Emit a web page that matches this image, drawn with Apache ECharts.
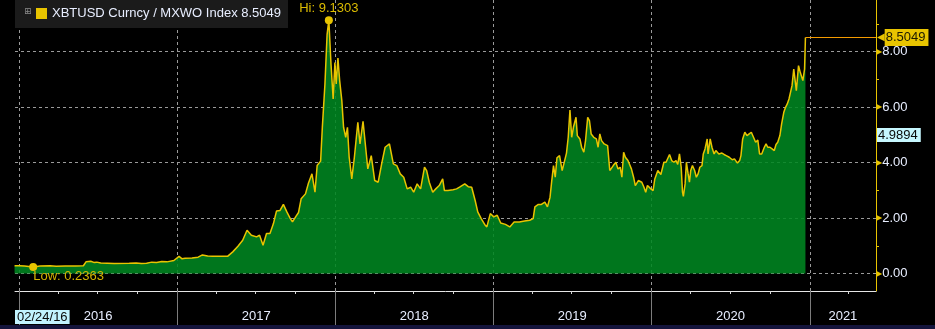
<!DOCTYPE html>
<html>
<head>
<meta charset="utf-8">
<script src="https://cdn.jsdelivr.net/npm/echarts@6/dist/echarts.min.js"></script>
<style>
html,body{margin:0;padding:0;background:#000;}
#chart{width:935px;height:329px;}
</style>
</head>
<body>
<div id="chart"></div>
<script>
// ---- data: [days since 2016-01-01, XBTUSD/MXWO ratio] ----
const seriesName = 'XBTUSD Curncy / MXWO Index 8.5049';
const ratio2016 = [[-10,0.28],[2,0.28],[13,0.27],[33,0.2363],[49,0.27],[72,0.28],[86,0.26],[107,0.27],[131,0.27],[149,0.28],[155,0.42],[166,0.44],[173,0.40],[180,0.41],[189,0.38],[220,0.36],[255,0.37],[271,0.38],[283,0.36],[295,0.37],[307,0.41],[318,0.40],[330,0.43],[342,0.42],[358,0.47]];
const ratio2017 = [[370,0.62],[377,0.53],[384,0.55],[400,0.56],[414,0.59],[424,0.67],[436,0.63],[447,0.62],[459,0.62],[482,0.62],[494,0.78],[506,0.98],[517,1.20],[527,1.56],[537,1.38],[549,1.32],[556,1.38],[564,1.02],[572,1.44],[580,1.44],[588,1.80],[595,2.25],[603,2.27],[611,2.49],[619,2.22],[627,1.98],[632,1.86],[640,2.06],[646,2.20],[652,2.69],[662,2.87],[669,3.26],[677,3.59],[684,2.93],[689,3.89],[697,4.05],[701,5.27],[707,6.83],[712,8.62],[716,9.1303],[721,7.54],[726,6.29],[730,7.60]];
const ratio2018 = [[733,6.83],[737,7.76],[741,6.95],[746,6.23],[750,5.27],[755,4.91],[759,5.27],[763,4.19],[769,3.41],[775,4.19],[783,5.45],[788,4.67],[795,5.48],[801,4.55],[806,3.77],[814,4.25],[822,3.35],[830,3.29],[838,3.95],[846,4.55],[856,4.67],[865,3.95],[873,3.89],[881,3.59],[889,3.47],[897,3.05],[905,3.11],[912,2.93],[920,3.23],[928,3.05],[937,3.83],[942,3.71],[948,3.29],[956,2.93],[963,3.05],[971,3.17],[979,3.41],[983,2.99],[991,2.99],[1003,3.02],[1011,3.05],[1018,3.11],[1030,3.23],[1038,3.13],[1046,3.11],[1054,2.63],[1060,2.22],[1068,1.98],[1076,1.77],[1081,1.68],[1089,2.16]];
const ratio2019 = [[1097,2.04],[1105,2.10],[1113,1.82],[1124,1.77],[1134,1.68],[1144,1.86],[1156,1.86],[1168,1.89],[1180,1.92],[1188,1.98],[1192,2.40],[1200,2.49],[1207,2.49],[1215,2.57],[1221,2.40],[1227,2.75],[1231,3.35],[1235,3.89],[1239,3.47],[1243,4.17],[1249,4.25],[1255,3.71],[1259,3.71],[1265,4.34],[1269,4.91],[1273,5.89],[1277,4.91],[1281,5.27],[1287,5.63],[1290,4.97],[1296,4.85],[1300,4.55],[1305,4.37],[1309,4.79],[1314,5.63],[1318,5.51],[1322,5.03],[1328,4.91],[1334,4.85],[1338,4.55],[1342,5.03],[1346,4.79],[1352,4.67],[1360,4.61],[1365,3.71],[1373,3.89],[1379,4.01],[1384,3.77],[1389,3.83],[1393,3.47],[1397,4.37],[1401,4.19],[1407,4.07],[1415,3.77],[1420,3.47],[1424,3.17],[1431,3.35],[1439,3.29],[1444,3.11],[1448,2.93],[1452,3.17],[1460,3.05]];
const ratio2020 = [[1465,2.99],[1469,3.41],[1476,3.71],[1483,3.57],[1490,4.01],[1495,4.01],[1503,4.29],[1508,4.07],[1513,4.01],[1518,4.07],[1522,3.93],[1526,4.31],[1530,3.83],[1533,2.93],[1535,2.78],[1539,3.23],[1542,4.01],[1546,3.59],[1549,3.29],[1552,3.71],[1556,3.89],[1561,3.71],[1565,3.47],[1569,3.59],[1573,3.83],[1578,3.89],[1581,4.31],[1585,4.49],[1590,4.85],[1592,4.31],[1597,4.85],[1601,4.55],[1606,4.31],[1610,4.43],[1617,4.31],[1624,4.34],[1629,4.29],[1634,4.25],[1641,4.19],[1648,4.10],[1653,4.13],[1660,3.98],[1665,4.07],[1668,4.25],[1672,4.85],[1677,5.09],[1682,4.97],[1687,5.03],[1692,5.09],[1697,4.91],[1702,4.73],[1707,4.81],[1711,4.31],[1716,4.31],[1722,4.55],[1726,4.67],[1730,4.55],[1735,4.55],[1740,4.49],[1745,4.43],[1749,4.65],[1753,4.73],[1758,4.97],[1762,5.39],[1767,5.81],[1771,5.99],[1775,6.11],[1779,6.29],[1783,6.35],[1786,6.77],[1790,7.37],[1793,7.31],[1796,6.59],[1801,7.49],[1805,7.25],[1808,7.25],[1811,6.95],[1815,7.37],[1817,8.5049]];

const hiPoint = [716, 9.1303];
const loPoint = [33, 0.2363];
const lastValue = 8.5049;
const refValue = 4.9894;
const yTickValues = [0, 2, 4, 6, 8];
const yMinorValues = [1, 3, 5, 7, 9];
const yearLabels = [2016, 2017, 2018, 2019, 2020, 2021];
const startDateLabel = '02/24/16';

// ---- build ----
const DAY = 86400000;
const BASE = Date.UTC(2016, 0, 1);
const toTime = d => BASE + d * DAY;
const seriesData = [].concat(ratio2016, ratio2017, ratio2018, ratio2019, ratio2020)
  .map(p => [toTime(p[0]), p[1]]);
const lastTime = seriesData[seriesData.length - 1][0];

const xMin = Date.UTC(2015, 11, 23);
const xMax = Date.UTC(2021, 5, 3);
const yMin = -0.63, yMax = 9.856;

const yearStarts = yearLabels.map(y => Date.UTC(y, 0, 1));
const quarterTicks = [];
yearLabels.forEach(y => [3, 6, 9].forEach(m => {
  const t = Date.UTC(y, m, 1);
  if (t < xMax) quarterTicks.push(t);
}));
const yearLabelPos = yearLabels.map(y => {
  const a = Math.max(Date.UTC(y, 0, 1), xMin);
  const b = Math.min(Date.UTC(y + 1, 0, 1), xMax);
  return (a + b) / 2;
});

const FONT = 'Liberation Sans';
const YELLOW = '#e8c400';
const TXT = '#e8eeff';
const GRIDC = '#9a9a9a';

const chart = echarts.init(document.getElementById('chart'), null, {renderer: 'canvas'});
chart.setOption({
  backgroundColor: '#000',
  animation: false,
  textStyle: {fontFamily: FONT},
  title: {
    text: '\u229E', left: 24, top: 7, padding: 0, z: 10,
    textStyle: {color: '#8c8c8c', fontSize: 9, fontWeight: 'normal', fontFamily: 'DejaVu Sans'}
  },
  legend: {
    left: 15, top: 0,
    padding: [7, 7, 8, 21],
    backgroundColor: '#1b1b1b',
    itemWidth: 11, itemHeight: 11,
    icon: 'rect',
    selectedMode: false,
    textStyle: {color: TXT, fontSize: 13, fontFamily: FONT},
    data: [{name: seriesName, itemStyle: {color: YELLOW}}]
  },
  graphic: [{
    type: 'rect', left: 0, bottom: 0, z: 100,
    shape: {width: 935, height: 4},
    style: {fill: '#14143c'}
  }],
  grid: {left: 15, right: 59, top: 0, bottom: 38},
  xAxis: [
    {
      type: 'value', min: xMin, max: xMax,
      axisLine: {show: true, onZero: false, lineStyle: {color: '#e6e6e6', width: 1}},
      axisTick: {show: true, customValues: quarterTicks, length: 3, lineStyle: {color: '#d8d8d8'}},
      axisLabel: {
        show: true, customValues: yearLabelPos, margin: 19,
        color: TXT, fontSize: 13, fontFamily: FONT,
        formatter: v => String(new Date(v).getUTCFullYear())
      },
      splitLine: {show: false}
    },
    {
      type: 'value', min: xMin, max: xMax, position: 'bottom',
      axisLine: {show: false, onZero: false},
      axisTick: {show: true, customValues: yearStarts, length: 34, lineStyle: {color: '#7c7c7c'}},
      axisLabel: {show: false},
      splitLine: {show: true, lineStyle: {color: GRIDC, type: [3, 3], width: 1}}
    },
    {
      type: 'value', min: xMin, max: xMax, position: 'bottom', z: 20,
      axisLine: {show: false, onZero: false},
      axisTick: {show: false},
      axisLabel: {
        show: true, customValues: [xMin], margin: 19, align: 'left',
        color: '#0a0a0a', fontSize: 13, fontFamily: FONT,
        backgroundColor: '#c2f3ff', padding: [1, 2, 0, 2],
        formatter: () => startDateLabel
      },
      splitLine: {show: false}
    }
  ],
  yAxis: [
    {
      type: 'value', position: 'right', min: yMin, max: yMax,
      axisLine: {show: true, onZero: false, lineStyle: {color: YELLOW, width: 1}},
      axisTick: {show: false, customValues: yTickValues},
      axisLabel: {
        show: true, customValues: yTickValues, margin: 0,
        formatter: v => '{t|\u25B6}{v|' + v.toFixed(2) + '}',
        rich: {
          t: {color: YELLOW, fontSize: 8, fontFamily: 'DejaVu Sans'},
          v: {color: TXT, fontSize: 13, fontFamily: FONT}
        }
      },
      splitLine: {show: true, lineStyle: {color: GRIDC, type: [3, 3], width: 1}}
    },
    {
      type: 'value', position: 'right', min: yMin, max: yMax,
      axisLine: {show: false, onZero: false},
      axisTick: {show: true, customValues: yMinorValues, length: 3, lineStyle: {color: YELLOW}},
      axisLabel: {show: false},
      splitLine: {show: false}
    }
  ],
  series: [{
    name: seriesName,
    type: 'line',
    xAxisIndex: 0, yAxisIndex: 0,
    data: seriesData,
    color: YELLOW,
    showSymbol: false,
    clip: false,
    lineStyle: {color: YELLOW, width: 1.5},
    areaStyle: {color: '#008621', opacity: 0.88},
    markPoint: {
      symbol: 'circle', symbolSize: 8, silent: true,
      itemStyle: {color: YELLOW},
      data: [
        {coord: [toTime(hiPoint[0]), hiPoint[1]],
         label: {show: true, position: 'top', distance: 1, color: '#dcbc00', fontSize: 13, fontFamily: FONT,
                 formatter: 'Hi: ' + hiPoint[1].toFixed(4)}},
        {coord: [toTime(loPoint[0]), loPoint[1]],
         label: {show: true, position: [4, 7], align: 'left', verticalAlign: 'top', color: '#d4b400', fontSize: 13, fontFamily: FONT,
                 formatter: 'Low: ' + loPoint[1].toFixed(4)}}
      ]
    },
    markLine: {
      silent: true, symbol: 'none', animation: false,
      data: [
        [
          {coord: [lastTime, lastValue],
           lineStyle: {color: '#f59b00', width: 1, type: 'solid'},
           label: {
             show: true, position: 'end', distance: 1,
             formatter: '{a|\u25C0}{b|' + lastValue.toFixed(4) + '}',
             rich: {
               a: {color: YELLOW, fontSize: 10, fontFamily: 'DejaVu Sans'},
               b: {backgroundColor: YELLOW, color: '#1c1a00', fontSize: 13, fontFamily: FONT, padding: [2, 3, 2, 1]}
             }
           }},
          {coord: [xMax, lastValue]}
        ],
        {
          yAxis: refValue,
          lineStyle: {color: 'rgba(0,0,0,0)', width: 0},
          label: {
            show: true, position: 'end', distance: 1,
            formatter: refValue.toFixed(4),
            color: '#0a0a0a', fontSize: 13, fontFamily: FONT,
            backgroundColor: '#c6f7ff', padding: [1, 3, 0, 1]
          }
        }
      ]
    }
  }]
});
</script>
</body>
</html>
